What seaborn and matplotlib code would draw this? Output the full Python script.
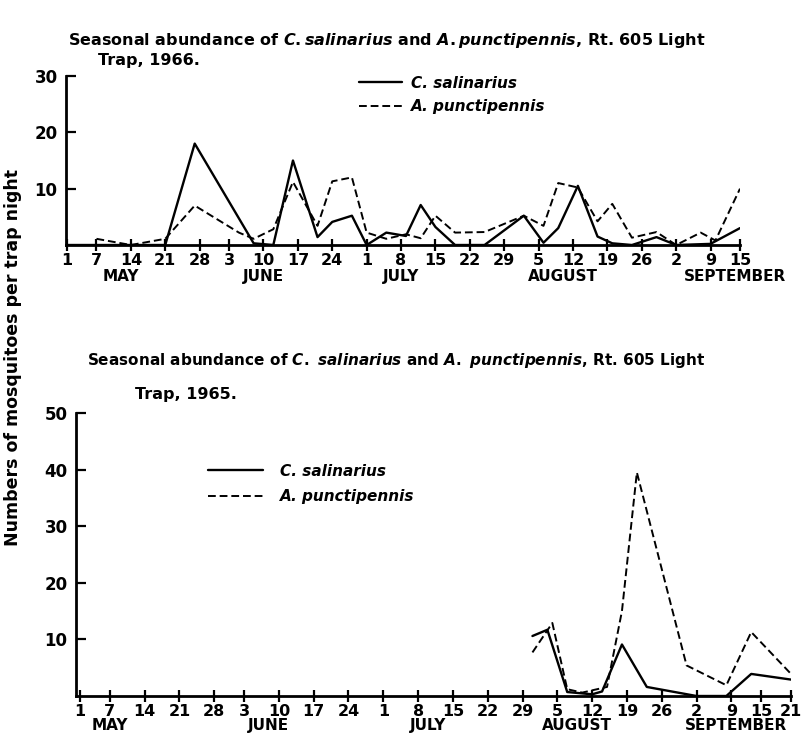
import matplotlib
matplotlib.use("Agg")
import matplotlib.pyplot as plt
import seaborn as sns

# ---- data (days counted from May 1) ----
tick_days_66 = [0, 6, 13, 20, 27, 33, 40, 47, 54, 61, 68, 75, 82, 89, 96, 103, 110, 117, 124, 131, 137]
tick_labels_66 = ["1", "7", "14", "21", "28", "3", "10", "17", "24", "1", "8", "15", "22", "29",
                  "5", "12", "19", "26", "2", "9", "15"]
tick_days_65 = tick_days_66[:-1] + [137, 143]
tick_labels_65 = tick_labels_66[:-1] + ["15", "21"]

months = ["MAY", "JUNE", "JULY", "AUGUST", "SEPTEMBER"]
month_pos_66 = [11, 40, 68, 101, 136]
month_pos_65 = [6, 38, 70, 100, 132]

# 1966
sal66_days = [0, 20, 26, 38, 42, 46, 51, 54, 58, 61, 65, 69, 72, 75, 79, 85, 93, 97, 100, 104,
              108, 111, 115, 120, 124, 131, 137]
sal66_vals = [0, 0, 18, 0.3, 0, 15, 1.4, 4.1, 5.2, 0, 2.2, 1.6, 7.1, 3.2, 0, 0, 5.2, 0.4, 3.0, 10.5,
              1.5, 0.3, 0, 1.4, 0, 0.2, 3.0]
pun66_days = [6, 13, 20, 26, 35, 38, 42, 46, 51, 54, 58, 61, 65, 69, 72, 75, 79, 85, 93, 97, 100,
              104, 108, 111, 115, 120, 124, 129, 132, 137]
pun66_vals = [1.1, 0, 1.1, 7.0, 2.2, 1.1, 2.8, 11.2, 3.4, 11.3, 12.0, 2.2, 1.1, 1.9, 1.2, 5.2, 2.2,
              2.3, 5.2, 3.4, 11.0, 10.2, 4.2, 7.3, 1.3, 2.3, 0, 2.2, 0.8, 10.0]

# 1965
sal65_days = [91, 94, 98, 103, 105, 109, 114, 124, 130, 135, 143]
sal65_vals = [10.6, 11.7, 0.7, 0.3, 0.8, 9.1, 1.6, 0, 0, 3.9, 2.9]
pun65_days = [91, 95, 98, 101, 106, 109, 112, 122, 130, 135, 143]
pun65_vals = [7.7, 12.9, 1.2, 0.6, 1.6, 15.0, 39.5, 5.4, 1.9, 11.3, 3.9]

sns.set_theme(style="ticks")
plt.rcParams["font.family"] = ["DejaVu Sans"]
plt.rcParams["font.weight"] = "bold"
plt.rcParams["text.color"] = "black"
plt.rcParams["mathtext.fontset"] = "custom"
plt.rcParams["mathtext.it"] = "DejaVu Sans:italic:bold"
plt.rcParams["mathtext.rm"] = "DejaVu Sans:bold"

W, H = 812, 737
fig = plt.figure(figsize=(W / 100, H / 100), dpi=100)

ax1 = fig.add_axes([66 / W, 1 - 245 / H, (740 - 66) / W, (245 - 76) / H])
ax2 = fig.add_axes([76 / W, 1 - 696 / H, (791 - 76) / W, (696 - 413) / H])


def style_axis(ax, days, labels, ymax, yticks, mpos, my):
    ax.set_ylim(0, ymax)
    ax.set_xticks(days)
    ax.set_xticklabels(labels)
    ax.set_yticks(yticks)
    ax.set_yticklabels([str(v) for v in yticks])
    for s in ["top", "right"]:
        ax.spines[s].set_visible(False)
    for s in ["left", "bottom"]:
        ax.spines[s].set_linewidth(2)
        ax.spines[s].set_color("black")
    ax.tick_params(axis="x", direction="inout", length=9, width=1.6, labelsize=11.5, pad=1, colors="black")
    ax.tick_params(axis="y", direction="in", length=7, width=1.6, labelsize=12, pad=6, colors="black")
    ax.set_xlabel("")
    ax.set_ylabel("")
    tr = ax.get_xaxis_transform()
    for m, p in zip(months, mpos):
        ax.text(p, my, m, transform=tr, ha="center", va="center", fontsize=11, fontweight="bold")


# top panel, 1966
sns.lineplot(x=sal66_days, y=sal66_vals, ax=ax1, color="black", lw=1.7, label="C. salinarius")
sns.lineplot(x=pun66_days, y=pun66_vals, ax=ax1, color="black", lw=1.4, linestyle=(0, (4, 2)),
             label="A. punctipennis")
ax1.set_xlim(-0.2, 137)
style_axis(ax1, tick_days_66, tick_labels_66, 30, [10, 20, 30], month_pos_66, -0.185)
ax1.legend(loc="upper left", bbox_to_anchor=(345 / W, 1 - 62 / H), bbox_transform=fig.transFigure,
           frameon=False, handlelength=2.8, labelspacing=0.55, handletextpad=0.6,
           prop=dict(style="italic", weight="bold", size=11))

# bottom panel, 1965
sns.lineplot(x=sal65_days, y=sal65_vals, ax=ax2, color="black", lw=1.7, label="C. salinarius")
sns.lineplot(x=pun65_days, y=pun65_vals, ax=ax2, color="black", lw=1.4, linestyle=(0, (4, 2)),
             label="A. punctipennis")
ax2.set_xlim(-0.8, 143)
style_axis(ax2, tick_days_65, tick_labels_65, 50, [10, 20, 30, 40, 50], month_pos_65, -0.105)
ax2.legend(loc="upper left", bbox_to_anchor=(194 / W, 1 - 450 / H), bbox_transform=fig.transFigure,
           frameon=False, handlelength=3.6, labelspacing=0.7, handletextpad=1.1,
           prop=dict(style="italic", weight="bold", size=11))

# titles
fig.text(68 / W, 1 - 40 / H,
         r"Seasonal abundance of $\mathit{C.salinarius}$ and $\mathit{A.punctipennis}$, Rt. 605 Light",
         fontsize=11.5, fontweight="bold", va="center", ha="left")
fig.text(98 / W, 1 - 60 / H, "Trap, 1966.", fontsize=11.5, fontweight="bold", va="center", ha="left")
fig.text(87 / W, 1 - 360 / H,
         r"Seasonal abundance of $\mathit{C.\ salinarius}$ and $\mathit{A.\ punctipennis}$, Rt. 605 Light",
         fontsize=11, fontweight="bold", va="center", ha="left")
fig.text(135 / W, 1 - 394 / H, "Trap, 1965.", fontsize=11.5, fontweight="bold", va="center", ha="left")

fig.text(13 / W, 1 - 357 / H, "Numbers of mosquitoes per trap night", rotation=90,
         fontsize=12.5, fontweight="bold", va="center", ha="center")

fig.savefig("out.png", dpi=100, facecolor="white")
